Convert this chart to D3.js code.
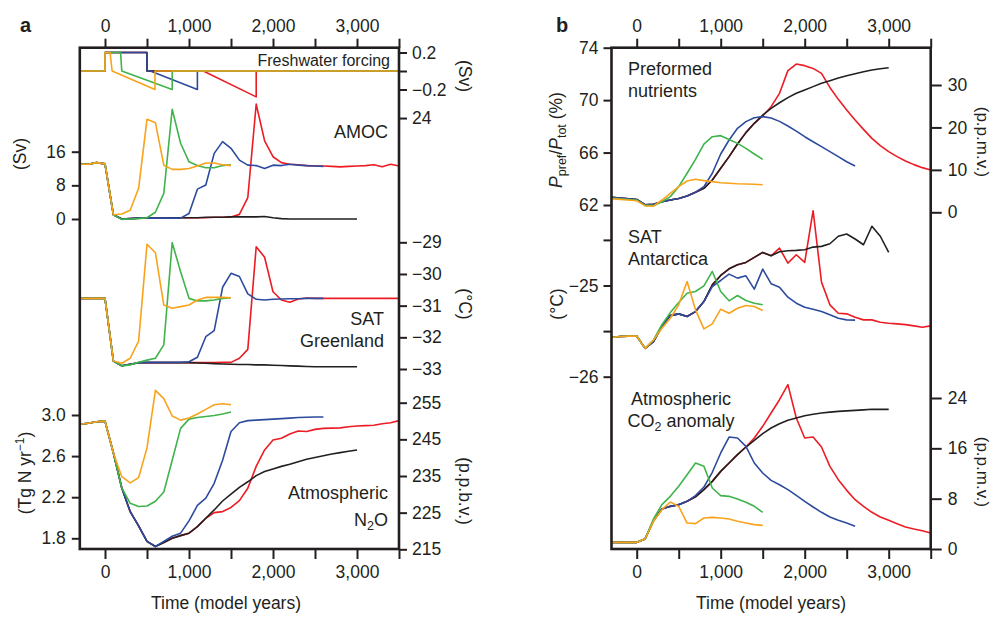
<!DOCTYPE html>
<html>
<head>
<meta charset="utf-8">
<script src="https://cdn.jsdelivr.net/npm/d3@7"></script>
<style>
body { margin: 0; background: #fff; }
text { font-family: "Liberation Sans", Arial, Helvetica, sans-serif; fill: #231f20; }
</style>
</head>
<body>
<div id="chart"></div>
<script>
var width = 993,
    height = 617;
var ink = "#231f20";

// model years, one value every 100 years
var years = [-300,-200,-100,0,100,200,300,400,500,600,700,800,900,1000,1100,1200,1300,1400,1500,
  1600,1700,1800,1900,2000,2100,2200,2300,2400,2500,2600,2700,2800,2900,3000,3100,3200,3300,3400,3500];

var runs = ["red", "black", "blue", "green", "orange"];   // drawing order
var colour = {red: "#ec1c24", black: "#231f20", blue: "#2d4b9e", green: "#3fb44b", orange: "#f8a31b"};

// freshwater forcing (Sv), break points
var fwYearsRed = [-300, 0, 0, 500, 500, 1170, 1800, 1800, 3500];
var fwRed      = [0, 0, 0.2, 0.2, 0, 0, -0.28, 0, 0];
var fwYearsBlack = [-300, 0, 0, 500, 500, 3500];
var fwBlack      = [0, 0, 0.2, 0.2, 0, 0];
var fwYearsBlue = [-300, 0, 0, 500, 500, 540, 1100, 1100, 3500];
var fwBlue      = [0, 0, 0.2, 0.2, 0, 0, -0.2, 0, 0];
var fwYearsGreen = [-300, 0, 0, 185, 200, 800, 800, 3500];
var fwGreen      = [0, 0, 0.2, 0.2, 0, -0.2, 0, 0];
var fwYearsOrange = [-300, 0, 0, 60, 85, 595, 595, 3500];
var fwOrange      = [0, 0, 0.2, 0.2, 0, -0.2, 0, 0];

// AMOC (Sv)
var amocRed = [13.0,13.0,13.4,13.1,1.0,0.0,0.1,0.2,0.2,0.2,0.2,0.2,0.3,0.3,0.3,0.3,0.4,0.4,0.5,1.1,5.1,27.3,18.6,14.8,13.4,
  13.0,12.9,12.7,12.6,12.6,12.5,12.4,12.5,12.6,12.7,12.9,12.4,13.0,12.6];
var amocBlack = [13.0,13.0,13.4,13.1,1.0,0.0,0.1,0.2,0.2,0.2,0.2,0.3,0.3,0.3,0.3,0.4,0.4,0.4,0.5,0.5,0.5,0.5,0.6,0.3,0.1,
  0.0,0.0,0.0,0.0,0.0,0.0,0.0,0.0,0.0];
var amocBlue = [13.0,13.0,13.4,13.1,1.0,0.0,0.1,0.2,0.2,0.2,0.2,0.2,0.2,1.3,7.1,8.1,15.6,18.4,16.8,14.0,12.8,12.7,12.0,12.8,
  12.7,13.0,12.8,12.7,12.6,12.5];
var amocGreen = [13.0,13.0,13.4,13.1,1.0,-0.1,0.0,0.1,0.3,1.6,6.1,26.1,18.0,13.6,12.7,12.2,12.2,12.7,12.9];
var amocOrange = [13.0,13.0,13.4,13.1,1.0,1.2,2.1,7.3,23.7,22.9,12.8,11.8,11.8,12.0,12.6,13.3,13.3,12.9,12.7];

// SAT Greenland (degC)
var satGRed = [-30.77,-30.77,-30.77,-30.77,-32.75,-32.90,-32.85,-32.80,-32.80,-32.80,-32.80,-32.80,-32.80,-32.80,-32.80,
  -32.80,-32.80,-32.79,-32.79,-32.66,-32.38,-29.14,-29.47,-30.56,-30.82,-30.89,-30.79,-30.76,-30.77,-30.77,-30.77,-30.77,
  -30.77,-30.77,-30.77,-30.77,-30.77,-30.77,-30.77];
var satGBlack = [-30.77,-30.77,-30.77,-30.77,-32.75,-32.90,-32.85,-32.80,-32.80,-32.80,-32.80,-32.80,-32.80,-32.80,-32.81,
  -32.82,-32.83,-32.84,-32.85,-32.86,-32.86,-32.87,-32.87,-32.88,-32.89,-32.90,-32.91,-32.92,-32.93,-32.93,-32.93,-32.93,
  -32.93,-32.93];
var satGBlue = [-30.77,-30.77,-30.77,-30.77,-32.75,-32.90,-32.85,-32.80,-32.79,-32.79,-32.79,-32.79,-32.79,-32.77,-32.63,
  -31.98,-31.79,-30.42,-29.98,-30.08,-30.63,-30.80,-30.82,-30.80,-30.79,-30.78,-30.78,-30.77,-30.77,-30.77];
var satGGreen = [-30.77,-30.77,-30.77,-30.77,-32.75,-32.90,-32.87,-32.79,-32.72,-32.66,-32.24,-29.01,-29.93,-30.77,-30.85,
  -30.85,-30.82,-30.77,-30.75];
var satGOrange = [-30.77,-30.77,-30.77,-30.77,-32.75,-32.82,-32.66,-32.12,-29.06,-29.33,-30.98,-31.08,-31.03,-30.98,-30.82,
  -30.74,-30.74,-30.74,-30.75];

// N2O source (Tg N per yr)
var n2oRed = [2.91,2.92,2.935,2.94,2.63,2.29,2.06,1.92,1.77,1.72,1.76,1.80,1.826,1.85,1.914,1.995,2.05,2.06,2.10,2.167,
  2.287,2.50,2.66,2.757,2.773,2.815,2.844,2.84,2.86,2.87,2.872,2.875,2.885,2.893,2.897,2.90,2.915,2.925,2.945];
var n2oBlack = [2.91,2.92,2.935,2.94,2.63,2.29,2.06,1.92,1.77,1.72,1.76,1.80,1.826,1.85,1.914,1.995,2.076,2.163,2.23,2.296,
  2.35,2.41,2.45,2.475,2.50,2.52,2.545,2.57,2.587,2.604,2.62,2.634,2.647,2.66];
var n2oBlue = [2.91,2.92,2.935,2.94,2.63,2.29,2.06,1.92,1.77,1.72,1.77,1.82,1.85,1.97,2.12,2.19,2.335,2.56,2.84,2.925,
  2.945,2.95,2.955,2.96,2.965,2.97,2.975,2.978,2.98,2.98];
var n2oGreen = [2.91,2.92,2.935,2.94,2.63,2.29,2.14,2.11,2.115,2.16,2.25,2.56,2.87,2.96,2.975,2.985,2.995,3.01,3.03];
var n2oOrange = [2.91,2.92,2.935,2.94,2.63,2.40,2.34,2.39,2.68,3.24,3.16,2.99,2.95,2.97,3.01,3.055,3.10,3.11,3.10];

// preformed nutrients (%)
var prefRed = [62.58,62.53,62.48,62.42,62.02,62.05,62.25,62.38,62.50,62.69,62.97,63.27,63.91,64.80,65.69,66.65,67.52,
  68.23,68.79,69.50,70.52,72.25,72.75,72.63,72.42,72.04,70.97,70.06,69.25,68.48,67.77,67.08,66.53,66.07,65.69,65.36,
  65.08,64.85,64.67];
var prefBlack = [62.58,62.53,62.48,62.42,62.02,62.05,62.25,62.38,62.50,62.69,62.97,63.27,63.91,64.80,65.69,66.65,67.52,
  68.23,68.86,69.37,69.80,70.19,70.52,70.77,71.03,71.28,71.48,71.69,71.86,72.02,72.17,72.30,72.40,72.47];
var prefBlue = [62.58,62.53,62.48,62.42,62.02,62.05,62.25,62.38,62.50,62.69,62.97,63.40,64.42,65.89,66.96,67.85,68.36,
  68.66,68.74,68.64,68.38,68.03,67.64,67.21,66.83,66.45,66.07,65.69,65.30,64.97];
var prefGreen = [62.52,62.47,62.42,62.37,61.97,61.95,62.25,62.64,63.40,64.42,65.48,66.65,67.21,67.29,67.00,66.70,66.32,
  65.89,65.48];
var prefOrange = [62.48,62.43,62.38,62.33,61.93,61.92,62.38,62.89,63.40,63.83,63.96,63.86,63.78,63.70,63.66,63.62,63.60,
  63.58,63.55];

// SAT Antarctica (degC)
var satARed = [-25.57,-25.56,-25.555,-25.553,-25.689,-25.615,-25.45,-25.33,-25.311,-25.34,-25.286,-25.176,-24.993,-24.89,
  -24.817,-24.773,-24.747,-24.692,-24.637,-24.674,-24.59,-24.755,-24.663,-24.747,-24.18,-24.963,-25.212,-25.304,-25.311,
  -25.348,-25.377,-25.377,-25.403,-25.414,-25.421,-25.429,-25.443,-25.458,-25.443];
var satABlack = [-25.57,-25.56,-25.555,-25.553,-25.689,-25.615,-25.45,-25.33,-25.311,-25.34,-25.286,-25.176,-24.993,-24.89,
  -24.817,-24.773,-24.747,-24.692,-24.637,-24.674,-24.63,-24.619,-24.615,-24.608,-24.579,-24.571,-24.542,-24.46,-24.436,
  -24.49,-24.553,-24.35,-24.46,-24.637];
var satABlue = [-25.57,-25.56,-25.555,-25.553,-25.689,-25.615,-25.45,-25.33,-25.311,-25.34,-25.286,-25.176,-25.011,-24.945,
  -24.875,-24.919,-24.894,-25.04,-24.82,-24.98,-25.018,-25.128,-25.194,-25.238,-25.26,-25.286,-25.32,-25.36,-25.377,-25.38];
var satAGreen = [-25.57,-25.56,-25.555,-25.553,-25.689,-25.597,-25.43,-25.297,-25.187,-25.084,-25.066,-25.004,-24.846,
  -25.066,-25.168,-25.11,-25.165,-25.194,-25.212];
var satAOrange = [-25.57,-25.56,-25.555,-25.553,-25.689,-25.597,-25.469,-25.359,-25.212,-24.956,-25.267,-25.476,-25.421,
  -25.26,-25.304,-25.25,-25.22,-25.23,-25.275];

// atmospheric CO2 anomaly (ppmv)
var co2Red = [1.06,1.06,1.06,1.06,1.59,4.50,6.36,6.78,7.05,7.58,8.30,9.43,10.75,12.34,13.67,14.99,16.21,17.64,19.50,21.62,
  23.73,26.12,20.82,17.64,17.80,16.21,13.14,11.02,9.32,7.84,6.78,5.83,5.09,4.56,4.03,3.50,3.18,2.91,2.54];
var co2Black = [1.06,1.06,1.06,1.06,1.59,4.50,6.36,6.78,7.05,7.58,8.30,9.43,10.75,12.34,13.67,14.99,16.21,17.27,18.33,
  19.23,19.92,20.45,20.82,21.19,21.42,21.62,21.76,21.88,21.96,22.04,22.12,22.20,22.20,22.20];
var co2Blue = [1.06,1.06,1.06,1.06,1.59,4.50,6.36,6.78,7.05,7.58,8.48,9.85,12.19,15.26,17.80,17.64,16.32,13.67,12.08,10.91,
  10.22,9.43,8.53,7.58,6.68,5.83,5.09,4.56,4.13,3.60];
var co2Green = [1.06,1.06,1.06,1.06,1.59,4.77,7.05,8.37,9.96,11.81,13.67,13.14,9.70,8.48,8.37,7.95,7.42,6.78,5.83];
var co2Orange = [1.06,1.06,1.06,1.06,1.59,4.40,6.25,7.47,6.78,4.13,4.03,4.93,5.03,4.93,4.77,4.40,4.13,3.87,3.76];

var timeTicks = [0, 500, 1000, 1500, 2000, 2500, 3000, 3500];

var svg = d3.select("#chart")
            .append("svg")
            .attr("width", width)
            .attr("height", height);

var xA = d3.scaleLinear().domain([-300, 3500]).range([79.8, 399]);
var xB = d3.scaleLinear().domain([-300, 3500]).range([611.5, 930.7]);
var plotTop = 47.7, plotBottom = 549;

// vertical scales of the stacked sections
var fwY = d3.scaleLinear().domain([-0.2, 0.2]).range([89.5, 52.5]);
var amocY = d3.scaleLinear().domain([0, 16]).range([219, 151.7]);
var satGY = d3.scaleLinear().domain([-33, -29]).range([369, 242.3]);
var n2oY = d3.scaleLinear().domain([1.8, 3.0]).range([538.3, 415]);
var ppbvY = d3.scaleLinear().domain([215, 255]).range([549.3, 402.7]);
var prefY = d3.scaleLinear().domain([62, 74]).range([205, 47.7]);
var ppmvY = d3.scaleLinear().domain([0, 30]).range([212.3, 85]);
var satAY = d3.scaleLinear().domain([-26, -25]).range([376.7, 285.5]);
var co2Y = d3.scaleLinear().domain([0, 24]).range([549, 398]);

function drawRuns(x, y, table, yearTable) {
    var line = d3.line()
        .x(function(d){ return x(d[0]) })
        .y(function(d){ return y(d[1]) });
    runs.forEach(function(r){
        var yrs = yearTable ? yearTable[r] : years;
        var pts = table[r].map(function(v, i){ return [yrs[i], v] });
        svg.append("path")
           .datum(pts)
           .attr("d", line)
           .attr("fill", "none")
           .attr("stroke", colour[r])
           .attr("stroke-width", 1.6)
           .attr("stroke-linejoin", "round");
    });
}

drawRuns(xA, fwY, {red: fwRed, black: fwBlack, blue: fwBlue, green: fwGreen, orange: fwOrange},
         {red: fwYearsRed, black: fwYearsBlack, blue: fwYearsBlue, green: fwYearsGreen, orange: fwYearsOrange});
drawRuns(xA, amocY, {red: amocRed, black: amocBlack, blue: amocBlue, green: amocGreen, orange: amocOrange});
drawRuns(xA, satGY, {red: satGRed, black: satGBlack, blue: satGBlue, green: satGGreen, orange: satGOrange});
drawRuns(xA, n2oY, {red: n2oRed, black: n2oBlack, blue: n2oBlue, green: n2oGreen, orange: n2oOrange});
drawRuns(xB, prefY, {red: prefRed, black: prefBlack, blue: prefBlue, green: prefGreen, orange: prefOrange});
drawRuns(xB, satAY, {red: satARed, black: satABlack, blue: satABlue, green: satAGreen, orange: satAOrange});
drawRuns(xB, co2Y, {red: co2Red, black: co2Black, blue: co2Blue, green: co2Green, orange: co2Orange});

function styleAxis(g) {
    g.attr("font-family", null).attr("font-size", 17.5);
    g.select(".domain").remove();
    g.selectAll(".tick line").attr("stroke", ink).attr("stroke-width", 2);
    g.selectAll(".tick text").attr("fill", ink);
}

function yAxis(side, x0, scale, ticks, fmt, size, pad) {
    var ax = (side === "left" ? d3.axisLeft(scale) : d3.axisRight(scale))
        .tickValues(ticks).tickFormat(fmt).tickSize(size).tickPadding(pad);
    svg.append("g").attr("transform", "translate(" + x0 + ",0)").call(ax).call(styleAxis);
}

var timeFmt = function(v){ return v % 1000 === 0 ? d3.format(",")(v) : "" };
[xA, xB].forEach(function(x){
    svg.append("g").attr("transform", "translate(0," + plotTop + ")")
       .call(d3.axisTop(x).tickValues(timeTicks).tickFormat(timeFmt).tickSize(9).tickPadding(7))
       .call(styleAxis);
    svg.append("g").attr("transform", "translate(0," + plotBottom + ")")
       .call(d3.axisBottom(x).tickValues(timeTicks).tickFormat(timeFmt).tickSize(10).tickPadding(7))
       .call(styleAxis);
});

var intFmt = d3.format("d");
var oneFmt = d3.format(".1f");

// panel a
yAxis("left", 79.8, amocY, [0, 8, 16], intFmt, 8, 6);
yAxis("left", 79.8, n2oY, [1.8, 2.2, 2.6, 3.0], oneFmt, 8, 6);
yAxis("right", 399, fwY, [-0.2, 0, 0.2], function(v){ return v === 0 ? "" : oneFmt(v) }, 8, 5);
yAxis("right", 399, amocY, [24], intFmt, 8, 5);
yAxis("right", 399, satGY, [-33, -32, -31, -30, -29], intFmt, 8, 5);
yAxis("right", 399, ppbvY, [215, 225, 235, 245, 255], intFmt, 8, 5);

// panel b
yAxis("left", 611.5, prefY, [62, 66, 70, 74], intFmt, 8, 5);
yAxis("left", 611.5, satAY, [-26, -25.5, -25, -24.5], function(v){ return v % 1 === 0 ? intFmt(v) : "" }, 8, 5);
yAxis("right", 930.7, ppmvY, [0, 10, 20, 30], intFmt, 11, 6);
yAxis("right", 930.7, co2Y, [0, 8, 16, 24], intFmt, 11, 6);

// frames
[[79.8, 399], [611.5, 930.7]].forEach(function(f){
    svg.append("rect")
       .attr("x", f[0]).attr("y", plotTop)
       .attr("width", f[1] - f[0]).attr("height", plotBottom - plotTop)
       .attr("fill", "none").attr("stroke", ink).attr("stroke-width", 2.6);
});

function label(x, y, txt, size, anchor, weight) {
    return svg.append("text").attr("x", x).attr("y", y)
              .attr("font-size", size).attr("text-anchor", anchor || "start")
              .attr("font-weight", weight || "normal").text(txt);
}

label(20, 32, "a", 20, "start", "bold");
label(556, 32, "b", 20, "start", "bold");

label(390, 66, "Freshwater forcing", 16, "end");
label(388, 138, "AMOC", 18, "end");
label(384, 325, "SAT", 18, "end");
label(384, 347, "Greenland", 18, "end");
label(388, 499, "Atmospheric", 18, "end");
var n2o = label(388, 526, "N", 18, "end");
n2o.append("tspan").attr("font-size", 12.5).attr("dy", 4).text("2");
n2o.append("tspan").attr("dy", -4).text("O");

label(628, 75, "Preformed", 18);
label(628, 97, "nutrients", 18);
label(628, 243, "SAT", 18);
label(628, 265, "Antarctica", 18);
label(681, 405, "Atmospheric", 18, "middle");
var co2 = label(681, 427, "CO", 18, "middle");
co2.append("tspan").attr("font-size", 12.5).attr("dy", 4).text("2");
co2.append("tspan").attr("dy", -4).text(" anomaly");

label(226, 609, "Time (model years)", 17.5, "middle");
label(771, 609, "Time (model years)", 17.5, "middle");

function vlabel(x, y, angle, size) {
    return svg.append("text")
              .attr("transform", "translate(" + x + "," + y + ") rotate(" + angle + ")")
              .attr("font-size", size || 17.5).attr("text-anchor", "middle");
}

vlabel(26, 154, -90).text("(Sv)");
var tg = vlabel(31, 473, -90).text("(Tg N yr");
tg.append("tspan").attr("font-size", 12).attr("dy", -7).text("\u22121");
tg.append("tspan").attr("dy", 7).text(")");
vlabel(459, 76, 90).text("(Sv)");
vlabel(459, 304, 90).text("(\u00b0C)");
vlabel(459, 491, 90).text("(p.p.b.v.)");

var pp = vlabel(562, 140, -90);
pp.append("tspan").attr("font-style", "italic").text("P");
pp.append("tspan").attr("font-size", 12.5).attr("dy", 4).text("pref");
pp.append("tspan").attr("dy", -4).text("/");
pp.append("tspan").attr("font-style", "italic").text("P");
pp.append("tspan").attr("font-size", 12.5).attr("dy", 4).text("tot");
pp.append("tspan").attr("dy", -4).text(" (%)");
vlabel(563, 304, -90).text("(\u00b0C)");
vlabel(977, 142, 90, 17).text("(p.p.m.v.)");
vlabel(977, 472, 90, 17).text("(p.p.m.v.)");
</script>
</body>
</html>
